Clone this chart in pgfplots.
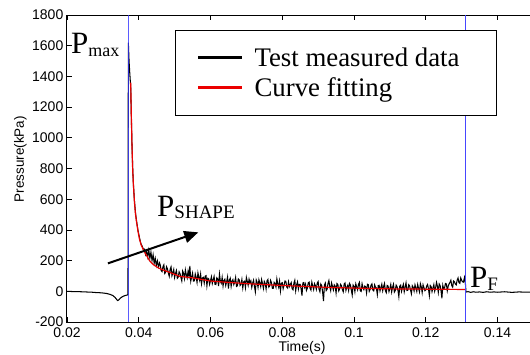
\documentclass[border=0pt]{standalone}
\usepackage{fontspec}
\setmainfont{Liberation Serif}
\setsansfont{Liberation Sans}
\usepackage{pgfplots}
\pgfplotsset{compat=1.18}
\usetikzlibrary{arrows.meta}
\definecolor{vblue}{RGB}{50,50,255}
\definecolor{vblue2}{RGB}{70,70,255}
\definecolor{fitred}{RGB}{235,0,0}

\begin{document}
\begin{tikzpicture}
\begin{axis}[
  scale only axis, width=470pt, height=307pt,
  xmin=0.02, xmax=0.15101, ymin=-200, ymax=1800,
  xtick={0.02,0.04,0.06,0.08,0.1,0.12,0.14},
  xticklabels={0.02,0.04,0.06,0.08,0.1,0.12,0.14},
  ytick={-200,0,200,400,600,800,1000,1200,1400,1600,1800},
  yticklabels={-200,0,200,400,600,800,1000,1200,1400,1600,1800},
  /pgf/number format/assume math mode=true,
  tick align=inside, major tick length=5pt,
  axis line style={line width=1pt},
  tick style={line width=0.7pt, black},
  ticklabel style={font=\sffamily\fontsize{14}{16}\selectfont},
  xticklabel style={anchor=base, yshift=-15.5pt},
  yticklabel style={inner xsep=1pt, xshift=-2.5pt},
  xlabel={Time(s)},
  ylabel={Pressure(kPa)},
  xlabel style={at={(axis description cs:0.5,-0.0945)}, anchor=base, font=\sffamily\fontsize{14}{16}\selectfont},
  ylabel style={at={(axis description cs:-0.099,0.53)}, anchor=center, font=\sffamily\fontsize{13.5}{16}\selectfont},
  legend style={at={(rel axis cs:0.2298,0.951)}, anchor=north west,
    draw=black, line width=1.1pt, fill=white,
    font=\fontsize{26.8}{30}\selectfont,
    inner xsep=21pt, inner ysep=14pt, row sep=4pt, column sep=8pt,
    nodes={inner sep=3pt}},
  legend cell align=left,
  legend image code/.code={\draw[#1, line width=3pt] (0pt,0pt) -- (44pt,0pt);},
  clip=true,
]
\coordinate (SW) at (rel axis cs:0,0);

\addplot[black, line width=1.05pt] coordinates {
(0.0200,0) (0.0210,-1) (0.0220,-2) (0.0230,-2) (0.0240,-3) (0.0250,-4) (0.0260,-5) (0.0270,-6) (0.0280,-8) (0.0290,-9) (0.0300,-11) (0.0310,-14) (0.0320,-20) (0.0328,-28) (0.0334,-40) (0.0338,-52) (0.0341,-60) (0.0344,-57) (0.0348,-46) (0.0353,-37) (0.0358,-31) (0.0363,-27) (0.0368,-24) (0.0370,-20)
(0.0371,1620) (0.0373,1500) (0.0375,1420) (0.03776,1330) (0.0379,1170) (0.0381,970) (0.0383,810) (0.0385,700) (0.0388,590) (0.0391,510) (0.0394,455) (0.0398,395) (0.0402,350) (0.0406,310)
(0.0410,292) (0.0413,272) (0.0416,275) (0.0419,240) (0.0422,262) (0.0425,225) (0.0428,268) (0.0431,215) (0.0434,255) (0.0437,200) (0.0440,238) (0.0443,182) (0.0446,215) (0.0449,168) (0.0452,198) (0.0455,160) (0.0458,185)
(0.0460,170) (0.04625,135) (0.0465,128) (0.04675,160) (0.0470,172) (0.04725,116) (0.0475,124) (0.04775,160) (0.0480,146) (0.04825,120) (0.0485,98) (0.04875,143) (0.0490,159) (0.04925,101) (0.0495,119) (0.04975,142) (0.0500,90) (0.05025,116) (0.0505,135) (0.05075,85)
(0.0510,92) (0.05125,127) (0.0515,116) (0.05175,91) (0.0520,68) (0.05225,132) (0.0525,116) (0.05275,83) (0.0530,139) (0.05325,108) (0.0535,87) (0.05375,131) (0.0540,100) (0.05425,165) (0.0545,67) (0.05475,93) (0.0550,118) (0.05525,67) (0.0555,68) (0.05575,113)
(0.0560,92) (0.05625,58) (0.0565,120) (0.05675,93) (0.0570,70) (0.05725,111) (0.0575,50) (0.05775,87) (0.0580,91) (0.05825,54) (0.0585,98) (0.05875,102) (0.0590,36) (0.05925,85) (0.0595,81) (0.05975,46) (0.0600,69) (0.06025,94) (0.0605,51) (0.06075,75)
(0.0610,97) (0.06125,46) (0.0615,44) (0.06175,88) (0.0620,81) (0.06225,34) (0.0625,112) (0.06275,66) (0.0630,53) (0.06325,90) (0.0635,35) (0.06375,71) (0.0640,79) (0.06425,39) (0.0645,64) (0.06475,93) (0.0650,18) (0.06525,72) (0.0655,85) (0.06575,32)
(0.0660,66) (0.06625,76) (0.0665,44) (0.06675,60) (0.0670,90) (0.06725,32) (0.0675,36) (0.06775,81) (0.0680,75) (0.06825,38) (0.0685,47) (0.06875,77) (0.0690,22) (0.06925,61) (0.0695,66) (0.06975,25) (0.0700,90) (0.07025,65) (0.0705,39) (0.07075,79)
(0.0710,57) (0.07125,68) (0.0715,26) (0.07175,53) (0.0720,72) (0.07225,32) (0.0725,-3) (0.07275,74) (0.0730,58) (0.07325,26) (0.0735,75) (0.07375,55) (0.0740,30) (0.07425,76) (0.0745,49) (0.07475,19) (0.0750,64) (0.07525,51) (0.0755,15) (0.07575,68)
(0.0760,77) (0.07625,27) (0.0765,34) (0.07675,71) (0.0770,56) (0.07725,19) (0.0775,20) (0.07775,58) (0.0780,50) (0.07825,28) (0.0785,81) (0.07875,49) (0.0790,27) (0.07925,66) (0.0795,3) (0.07975,53) (0.0800,56) (0.08025,17) (0.0805,39) (0.08075,67)
(0.0810,65) (0.08125,28) (0.0815,21) (0.08175,61) (0.0820,31) (0.08225,45) (0.0825,57) (0.08275,17) (0.0830,10) (0.08325,54) (0.0835,72) (0.08375,4) (0.0840,42) (0.08425,61) (0.0845,15) (0.08475,45) (0.0850,45) (0.08525,17) (0.0855,-28) (0.08575,54)
(0.0860,57) (0.08625,26) (0.0865,46) (0.08675,6) (0.0870,21) (0.08725,55) (0.0875,60) (0.08775,20) (0.0880,8) (0.08825,59) (0.0885,34) (0.08875,11) (0.0890,49) (0.08925,36) (0.0895,13) (0.08975,53) (0.0900,63) (0.09025,15) (0.0905,-3) (0.09075,47)
(0.0910,37) (0.09125,-4) (0.0915,-64) (0.09175,41) (0.0920,54) (0.09225,5) (0.0925,13) (0.09275,50) (0.0930,70) (0.09325,30) (0.0935,5) (0.09375,54) (0.0940,32) (0.09425,9) (0.0945,42) (0.09475,34) (0.0950,-11) (0.09525,51) (0.0955,45) (0.09575,3)
(0.0960,15) (0.09625,45) (0.0965,37) (0.09675,12) (0.0970,-3) (0.09725,47) (0.0975,54) (0.09775,6) (0.0980,26) (0.09825,39) (0.0985,6) (0.09875,51) (0.0990,41) (0.09925,9) (0.0995,-24) (0.09975,41) (0.1000,33) (0.10025,-2) (0.1005,48) (0.10075,28)
(0.1010,10) (0.10125,45) (0.1015,58) (0.10175,4) (0.1020,-1) (0.10225,49) (0.1025,24) (0.10275,11) (0.1030,34) (0.10325,30) (0.1035,-10) (0.10375,46) (0.1040,43) (0.10425,0) (0.1045,13) (0.10475,40) (0.1050,48) (0.10525,8) (0.1055,3) (0.10575,42)
(0.1060,27) (0.10625,22) (0.1065,-21) (0.10675,37) (0.1070,39) (0.10725,2) (0.1075,25) (0.10775,46) (0.1080,4) (0.10825,31) (0.1085,51) (0.10875,4) (0.1090,-9) (0.10925,38) (0.1095,34) (0.10975,-2) (0.1100,18) (0.11025,44) (0.1105,-4) (0.11075,26)
(0.1110,46) (0.11125,-5) (0.1115,5) (0.11175,40) (0.1120,30) (0.11225,7) (0.1125,-35) (0.11275,33) (0.1130,40) (0.11325,0) (0.1135,25) (0.11375,45) (0.1140,-3) (0.11425,27) (0.1145,55) (0.11475,5) (0.1150,7) (0.11525,43) (0.1155,35) (0.11575,9)
(0.1160,-16) (0.11625,36) (0.1165,26) (0.11675,2) (0.1170,42) (0.11725,22) (0.1175,-1) (0.11775,44) (0.1180,19) (0.11825,-4) (0.1185,49) (0.11875,29) (0.1190,-8) (0.11925,42) (0.1195,24) (0.11975,4) (0.1200,9) (0.12025,34) (0.1205,44) (0.12075,18)
(0.1210,-27) (0.12125,38) (0.1215,31) (0.12175,-2) (0.1220,21) (0.12225,43) (0.1225,1) (0.12275,23) (0.1230,58) (0.12325,33) (0.1235,-7) (0.12375,48) (0.1240,38) (0.12425,5) (0.1245,-45) (0.12475,38) (0.1250,15) (0.12525,23) (0.1255,51) (0.12575,48)
(0.1260,3) (0.12625,33) (0.1265,48) (0.12675,58) (0.1270,72) (0.12725,37) (0.1275,27) (0.12775,67) (0.1280,62) (0.12825,47) (0.1285,42) (0.12875,72) (0.1290,87) (0.12925,57) (0.1295,52) (0.12975,87) (0.1300,72) (0.13025,62) (0.1305,60)
(0.1308,90) (0.1311,40) (0.1312,-5)
(0.1318,-2) (0.1325,-7) (0.1333,-3) (0.1340,-6) (0.1350,-4) (0.1360,-7) (0.1370,-3) (0.1380,-6) (0.1390,-4) (0.1400,-6) (0.1420,-3) (0.1440,-7) (0.1460,-4) (0.1480,-6) (0.1510,-5)
};
\addlegendentry{Test measured data\hspace*{13pt}}

\addplot[fitred, line width=1.2pt] coordinates {
(0.03776,1360) (0.0379,1180) (0.0381,960) (0.0383,800) (0.0385,700) (0.0388,580) (0.0391,500) (0.0394,450) (0.0398,390) (0.0402,340) (0.0407,300) (0.0412,275) (0.0420,240) (0.0430,200) (0.0440,175) (0.0455,152) (0.0470,137) (0.0490,120) (0.0515,97) (0.0550,88) (0.0600,67) (0.0650,58) (0.0700,50) (0.0750,44) (0.0800,38) (0.0850,33) (0.0900,28) (0.0950,24) (0.1000,21) (0.1050,18) (0.1100,16) (0.1150,15) (0.1200,14) (0.1250,13) (0.1311,12)
};
\addlegendentry{Curve fitting\rule[-11pt]{0pt}{0pt}}

\addplot[vblue, line width=1.2pt, opacity=0.8, forget plot] coordinates {(0.0371,-200) (0.0371,1800)};
\addplot[vblue2, line width=1.3pt, forget plot] coordinates {(0.1311,-200) (0.1311,1800)};

\draw[black, line width=2pt, -{Triangle[length=14pt,width=12pt]}] (axis cs:0.0314,182) -- (axis cs:0.0566,384);

\node[anchor=base west, inner sep=0pt] at (axis cs:0.0211,1552) {\fontsize{31}{31}\selectfont P\raisebox{-3pt}{\fontsize{18}{18}\selectfont max}};
\node[anchor=base west, inner sep=0pt] at (axis cs:0.0451,490) {\fontsize{31}{31}\selectfont P\raisebox{-2pt}{\fontsize{19}{19}\selectfont SHAPE}};
\node[anchor=base west, inner sep=0pt] at (axis cs:0.1323,28) {\fontsize{31}{31}\selectfont P\raisebox{-3pt}{\fontsize{19}{19}\selectfont F}};
\end{axis}
\pgfresetboundingbox
\path[use as bounding box] ([shift={(-67pt,-32pt)}]SW) rectangle ([shift={(463pt,322pt)}]SW);
\end{tikzpicture}
\end{document}
